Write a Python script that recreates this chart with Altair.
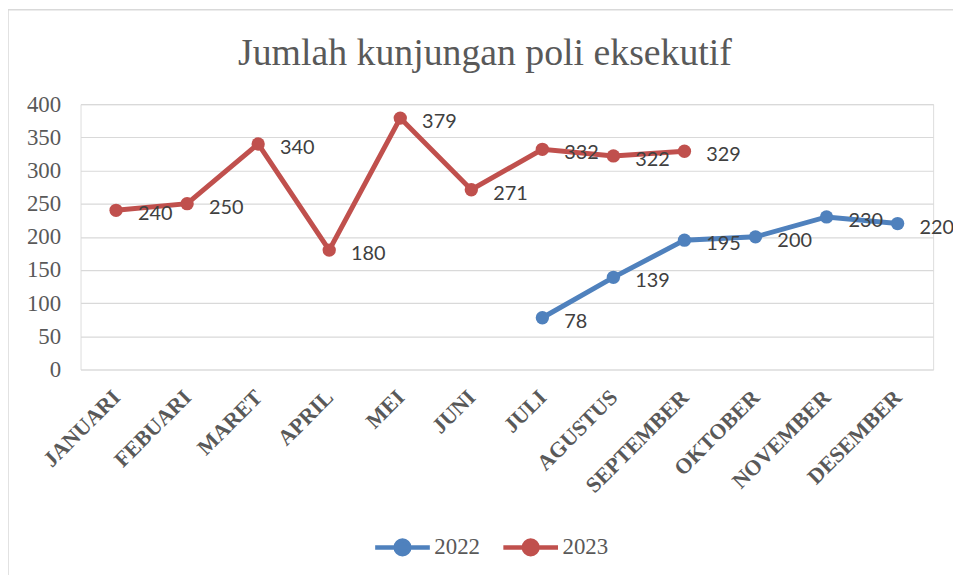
import altair as alt
import pandas as pd

months = ["JANUARI", "FEBUARI", "MARET", "APRIL", "MEI", "JUNI", "JULI",
          "AGUSTUS", "SEPTEMBER", "OKTOBER", "NOVEMBER", "DESEMBER"]

months_2022 = ["JULI", "AGUSTUS", "SEPTEMBER", "OKTOBER", "NOVEMBER", "DESEMBER"]
values_2022 = [78, 139, 195, 200, 230, 220]

months_2023 = ["JANUARI", "FEBUARI", "MARET", "APRIL", "MEI", "JUNI", "JULI",
               "AGUSTUS", "SEPTEMBER"]
values_2023 = [240, 250, 340, 180, 379, 271, 332, 322, 329]

y_ticks = [0, 50, 100, 150, 200, 250, 300, 350, 400]

rows = [{"bulan": m, "tahun": "2022", "nilai": v} for m, v in zip(months_2022, values_2022)]
rows += [{"bulan": m, "tahun": "2023", "nilai": v} for m, v in zip(months_2023, values_2023)]
df = pd.DataFrame(rows)

serif = "Liberation Serif"
gray = "#595959"
colors = ["#4F81BD", "#C0504D"]

x_enc = alt.X("bulan:N", sort=months,
              scale=alt.Scale(type="point", domain=months, padding=0.5),
              axis=alt.Axis(title=None, labelAngle=315, labelAlign="right",
                            labelBaseline="middle", labelFont=serif,
                            labelFontWeight="bold", labelFontSize=22,
                            labelColor=gray, labelPadding=24, ticks=False,
                            domain=False, grid=False, labelOverlap=False))
y_enc = alt.Y("nilai:Q", scale=alt.Scale(domain=[0, 400], nice=False),
              axis=alt.Axis(title=None, values=y_ticks, labelFont=serif,
                            labelFontSize=23, labelColor=gray, labelPadding=20,
                            ticks=False, domain=False, gridColor="#d9d9d9",
                            gridWidth=1.2))
color_enc = alt.Color("tahun:N",
                      scale=alt.Scale(domain=["2022", "2023"], range=colors),
                      legend=alt.Legend(title=None, orient="none",
                                        direction="horizontal",
                                        legendX=294, legendY=416,
                                        labelFont=serif, labelFontSize=23,
                                        labelColor=gray,
                                        symbolType="M-1,0L1,0M-0.25,0A0.25,0.25 0 1,0 0.25,0A0.25,0.25 0 1,0 -0.25,0",
                                        symbolSize=3025, symbolStrokeWidth=4.5,
                                        columnPadding=14, labelOffset=2))

base = alt.Chart(df)

lines = base.mark_line(strokeWidth=5).encode(x=x_enc, y=y_enc, color=color_enc,
                                             detail="tahun:N")
points = base.mark_point(filled=True, size=180, opacity=1).encode(
    x=x_enc, y=y_enc, color=alt.Color("tahun:N", scale=alt.Scale(domain=["2022", "2023"], range=colors), legend=None))
labels = base.mark_text(align="left", baseline="middle", dx=22, dy=4,
                        font="Lato", fontSize=20, color="#404040").encode(
    x=x_enc, y=y_enc, text="nilai:Q")

border = alt.Chart(pd.DataFrame({"b": [0]})).mark_rect(
    fill=None, stroke="#d9d9d9", strokeWidth=1.5).encode(
    x=alt.value(-73), x2=alt.value(3000), y=alt.value(-95), y2=alt.value(3000))

chart = alt.layer(border, lines, points, labels).properties(
    width=858, height=267,
    title=alt.TitleParams("Jumlah kunjungan poli eksekutif", font=serif,
                          fontSize=38, fontWeight="normal", color=gray,
                          anchor="middle", frame="group", dx=-22,
                          baseline="alphabetic", offset=-94),
    autosize=alt.AutoSizeParams(type="none"),
    padding={"left": 73, "top": 95, "right": 20, "bottom": 205},
).configure_view(stroke=None).configure(background="white")

chart.save("out.html", embed_options={"renderer": "svg", "actions": False})
